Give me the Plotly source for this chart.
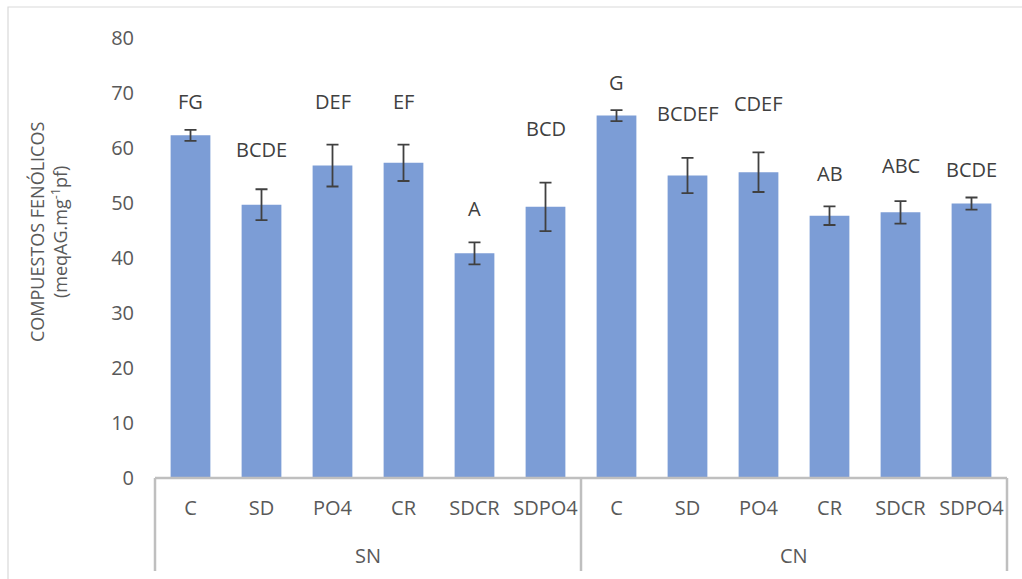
import plotly.graph_objects as go

# Phenolic compounds by treatment, grouped by SN / CN
groups = ["SN", "CN"]
treatments = ["C", "SD", "PO4", "CR", "SDCR", "SDPO4"]
sn_means = [62.3, 49.7, 56.8, 57.3, 40.85, 49.3]
cn_means = [65.9, 55.0, 55.6, 47.7, 48.3, 49.9]
sn_err = [1.0, 2.8, 3.8, 3.3, 2.0, 4.4]
cn_err = [1.0, 3.2, 3.6, 1.7, 2.05, 1.1]
sn_letters = ["FG", "BCDE", "DEF", "EF", "A", "BCD"]
cn_letters = ["G", "BCDEF", "CDEF", "AB", "ABC", "BCDE"]
y_ticks = [0, 10, 20, 30, 40, 50, 60, 70, 80]

means = sn_means + cn_means
errs = sn_err + cn_err
letters = sn_letters + cn_letters
labels = treatments * len(groups)
xs = list(range(len(means)))

# heights (data units) of the significance letters
letter_y = [68.5, 59.8, 68.5, 68.5, 49.0, 63.5, 72.0, 66.2, 68.1, 55.4, 56.9, 56.1]

FONT = "Open Sans"
GRAY_TXT = "#595959"
DARK_TXT = "#404040"
AXIS_GRAY = "#BFBFBF"

W, H = 1022, 579
L, R, T, B = 155, 15, 38, 101
pw, ph = W - L - R, H - T - B


def px_x(p):
    return (p - L) / pw


def px_y(p):
    return (H - B - p) / ph


fig = go.Figure()
fig.add_trace(go.Bar(
    x=xs, y=means,
    marker=dict(color="#7C9DD6", line=dict(width=0)),
    width=0.56,
    error_y=dict(type="data", array=errs, visible=True,
                 color=DARK_TXT, thickness=1.8, width=6),
    showlegend=False,
))

annotations = []
for x, lt, ly in zip(xs, letters, letter_y):
    annotations.append(dict(x=x, y=ly, xref="x", yref="y", text=lt,
                            showarrow=False, yanchor="middle",
                            font=dict(family=FONT, size=20, color=DARK_TXT)))

n = len(treatments)
for gi, g in enumerate(groups):
    annotations.append(dict(x=gi * n + (n - 1) / 2, y=px_y(555), xref="x", yref="paper",
                            text=g, showarrow=False, yanchor="middle",
                            font=dict(family=FONT, size=20, color=GRAY_TXT)))

annotations.append(dict(
    x=px_x(48), y=px_y(232), xref="paper", yref="paper",
    text="COMPUESTOS FENÓLICOS<br>(meqAG.mg<sup>-1</sup>pf)",
    textangle=-90, showarrow=False, xanchor="center", yanchor="middle",
    font=dict(family=FONT, size=18, color=GRAY_TXT)))

shapes = [
    # outer chart border
    dict(type="rect", xref="paper", yref="paper",
         x0=px_x(8), x1=px_x(1040), y0=px_y(7), y1=px_y(600),
         line=dict(color="#D9D9D9", width=1.2), layer="below"),
    # category axis baseline
    dict(type="line", xref="paper", yref="paper", x0=0, x1=1, y0=0, y1=0,
         line=dict(color=AXIS_GRAY, width=2.5)),
]
for xv in (0, 0.5, 1):
    shapes.append(dict(type="line", xref="paper", yref="paper",
                       x0=xv, x1=xv, y0=0, y1=px_y(571),
                       line=dict(color=AXIS_GRAY, width=2.5)))

fig.update_layout(
    width=W, height=H,
    margin=dict(l=L, r=R, t=T, b=B),
    paper_bgcolor="white", plot_bgcolor="white",
    font=dict(family=FONT, color=GRAY_TXT),
    bargap=0.44,
    xaxis=dict(range=[-0.5, len(xs) - 0.5], tickvals=xs, ticktext=labels,
               showgrid=False, zeroline=False, showline=False, ticks="",
               tickfont=dict(family=FONT, size=20, color=GRAY_TXT),
               ticklabelstandoff=16),
    yaxis=dict(range=[0, 80], tickvals=y_ticks, showgrid=False, zeroline=False,
               showline=False, ticks="",
               tickfont=dict(family=FONT, size=20, color=GRAY_TXT),
               ticklabelstandoff=20),
    annotations=annotations,
    shapes=shapes,
)

fig.write_html("out.html")
